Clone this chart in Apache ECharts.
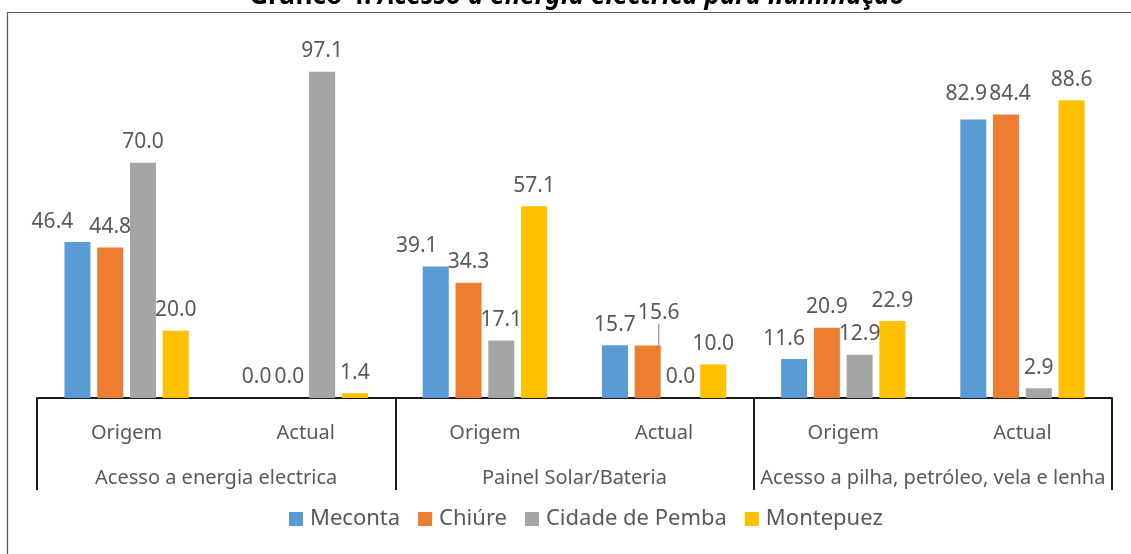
<!DOCTYPE html>
<html>
<head>
<meta charset="utf-8">
<script src="https://cdn.jsdelivr.net/npm/echarts@6/dist/echarts.min.js"></script>
<style>
html,body{margin:0;padding:0;background:#fff;}
#c{width:1131px;height:554px;}
</style>
</head>
<body>
<div id="c"></div>
<script>
const subCategories = ['Origem', 'Actual', 'Origem', 'Actual', 'Origem', 'Actual'];
const groups = ['Acesso a energia electrica', 'Painel Solar/Bateria', 'Acesso a pilha, petróleo, vela e lenha'];
const seriesNames = ['Meconta', 'Chiúre', 'Cidade de Pemba', 'Montepuez'];
const meconta = [46.4, 0.0, 39.1, 15.7, 11.6, 82.9];
const chiure = [44.8, 0.0, 34.3, 15.6, 20.9, 84.4];
const pemba = [70.0, 97.1, 17.1, 0.0, 12.9, 2.9];
const montepuez = [20.0, 1.4, 57.1, 10.0, 22.9, 88.6];
const titleBold = 'Gráfico 4: ';
const titleItalic = 'Acesso a energia eléctrica para iluminação';

const colors = ['#5B9BD5', '#ED7D31', '#A5A5A5', '#FFC000'];
const FONT = 'Noto Sans';
const txt = '#595959';

// manual label shifts seen in the reference
const mecontaShift = {0: [-25, 0], 2: [-19, 0], 4: [-10, 0], 5: [-7, -5]};
const chiureShift = {3: [11, -12], 5: [4, 0]};
const chiureLeader = [3];

function makeSeries(name, values, idx, shifts, leaders) {
  return {
    name: name,
    type: 'bar',
    xAxisIndex: 0,
    data: values.map((v, i) => (leaders && leaders.indexOf(i) >= 0)
      ? {value: v, labelLine: {show: true, lineStyle: {color: '#A5A5A5', width: 1.5}}}
      : v),
    barWidth: 26,
    barGap: '26%',
    itemStyle: {color: colors[idx]},
    label: {
      show: true,
      position: 'top',
      distance: 10,
      color: txt,
      fontFamily: FONT,
      fontSize: 21,
      formatter: p => p.value.toFixed(1)
    },
    labelLine: {show: false},
    labelLayout: function (p) {
      if (shifts && shifts[p.dataIndex]) {
        return {dx: shifts[p.dataIndex][0], dy: shifts[p.dataIndex][1]};
      }
      return {};
    }
  };
}

const chart = echarts.init(document.getElementById('c'));
chart.setOption({
  animation: false,
  backgroundColor: '#fff',
  grid: {left: 37, right: 19, top: 62, bottom: 156, containLabel: false},
  xAxis: [
    {
      type: 'category',
      data: subCategories,
      position: 'bottom',
      axisLine: {show: false},
      axisTick: {show: false},
      axisLabel: {margin: 25, color: txt, fontFamily: FONT, fontSize: 20, interval: 0}
    },
    {
      type: 'category',
      data: groups,
      position: 'bottom',
      axisLine: {show: true, lineStyle: {color: '#1a1a1a', width: 2}},
      axisTick: {show: true, length: 92, lineStyle: {color: '#1a1a1a', width: 2}},
      axisLabel: {margin: 70, color: txt, fontFamily: FONT, fontSize: 20, interval: 0}
    }
  ],
  yAxis: {type: 'value', min: 0, max: 100, show: false},
  legend: {
    data: seriesNames,
    left: 284,
    top: 503,
    itemWidth: 14,
    itemHeight: 14,
    itemGap: 18,
    icon: 'rect',
    textStyle: {color: txt, fontFamily: FONT, fontSize: 22, padding: [0, 0, 0, 2]}
  },
  graphic: [
    {
      type: 'rect',
      shape: {x: 7.5, y: 12.5, width: 1140, height: 560},
      style: {fill: 'none', stroke: '#595959', lineWidth: 1.2},
      silent: true
    },
    {
      type: 'text',
      x: 577,
      y: -3,
      style: {
        text: '{a|' + titleBold + '}{b|' + titleItalic + '}',
        align: 'center',
        verticalAlign: 'middle',
        rich: {
          a: {fontFamily: FONT, fontWeight: 'bold', fontSize: 26, fill: '#000'},
          b: {fontFamily: FONT, fontWeight: 'bold', fontStyle: 'italic', fontSize: 26, fill: '#000'}
        }
      }
    }
  ],
  series: [
    makeSeries(seriesNames[0], meconta, 0, mecontaShift, null),
    makeSeries(seriesNames[1], chiure, 1, chiureShift, chiureLeader),
    makeSeries(seriesNames[2], pemba, 2, null, null),
    makeSeries(seriesNames[3], montepuez, 3, null, null)
  ]
});
</script>
</body>
</html>
